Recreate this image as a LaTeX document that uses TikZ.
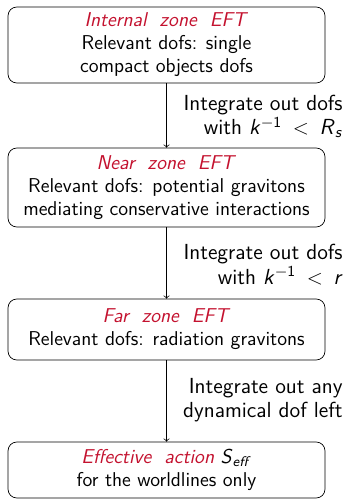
\documentclass[tikz,border=0pt]{standalone}
\usepackage{xcolor}
\usepackage{tikz}
\usetikzlibrary{positioning}
\definecolor{alertred}{HTML}{C4122F}
\renewcommand{\familydefault}{\sfdefault}
\newcommand{\alertit}[1]{\textcolor{alertred}{\textit{#1}}}
\newcommand{\kinv}{\textit{k}\textsuperscript{$-$1}}

\begin{document}
\begin{tikzpicture}[x=0.02cm, y=-0.02cm,
  zone/.style={rectangle, rounded corners=5pt, draw=black, fill=white,
    minimum width=6.34cm, align=center,
    font=\sffamily\fontsize{11.4pt}{13.1pt}\selectfont, line width=0.4pt},
  step label/.style={font=\sffamily\fontsize{12.4pt}{14pt}\selectfont,
    align=right, anchor=east, inner sep=0pt}
]
\useasboundingbox (0,0) rectangle (347,500);

\node[zone, minimum height=1.52cm] (internal) at (166.5,45)
  {\alertit{Internal\ \ zone\ \ EFT}\\
   Relevant dofs: single\\ compact objects dofs};
\node[zone, minimum height=1.58cm] (near) at (166.5,187.5)
  {\alertit{Near\ \ zone\ \ EFT}\\
   Relevant dofs: potential gravitons\\ mediating conservative interactions};
\node[zone, minimum height=1.22cm] (far) at (166.5,329.5)
  {\alertit{Far\ \ zone\ \ EFT}\\
   Relevant dofs: radiation gravitons};
\node[zone, minimum height=1.12cm] (action) at (166.5,470)
  {\alertit{Effective\ \ action} \textit{S}\textsubscript{\textit{eff}}\\
   for the worldlines only};

\draw[->] (internal) -- (near);
\draw[->] (near) -- (far);
\draw[->] (far) -- (action);

\node[step label] (cut1) at (343,116.5)
  {Integrate out dofs\\ with \kinv\,\ $<$\,\ \textit{R}\textsubscript{\textit{s}}};
\node[step label] (cut2) at (343,264.5)
  {Integrate out dofs\\ with \kinv\,\ $<$\,\ \textit{r}};
\node[step label] (cut3) at (343,400)
  {Integrate out any\\ dynamical dof left};

\end{tikzpicture}
\end{document}
